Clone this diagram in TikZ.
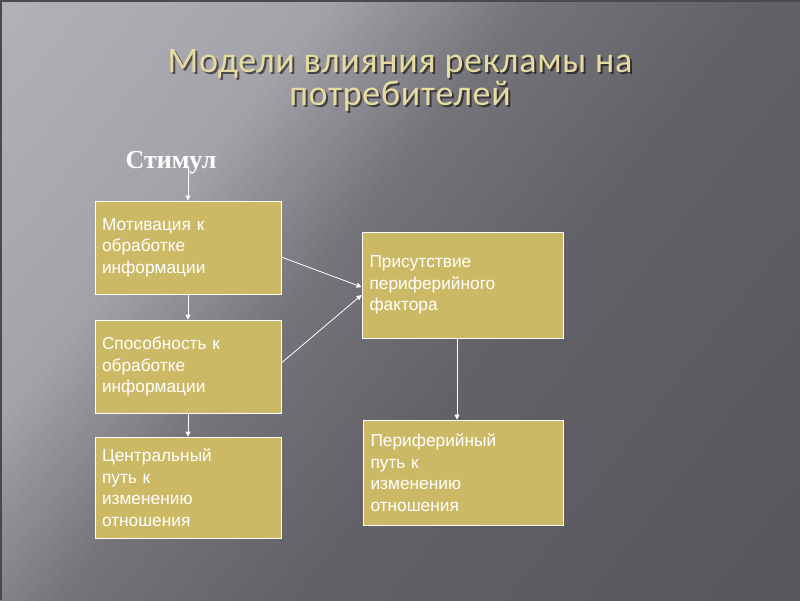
\documentclass[tikz,border=0pt]{standalone}
\usepackage{fontspec}
\setmainfont{Liberation Sans}
\newfontfamily\titlefont[LetterSpace=2]{Carlito}
\newfontfamily\stimfont{Liberation Serif}
\usetikzlibrary{arrows.meta,calc}
\definecolor{boxfill}{RGB}{204,185,102}
\definecolor{titlecol}{RGB}{230,219,160}
\definecolor{edgecol}{RGB}{74,73,79}
\tikzset{
  boxnode/.style={draw=white, line width=0.8pt, fill=boxfill, text=white,
    font=\fontsize{17.3}{21.5}\selectfont, align=left, inner xsep=7pt, inner ysep=2pt, anchor=center},
  conn/.style={draw=white, line width=0.8pt, -{Triangle[width=5pt,length=5pt]}},
  titletext/.style={font=\titlefont\fontsize{36}{33}\selectfont, align=center}
}
\begin{document}
\begin{tikzpicture}[x=1pt,y=-1pt]
\useasboundingbox (0,0) rectangle (800,600);
% background
\begin{scope}
\clip (0,0) rectangle (800,600);
\begin{scope}[rotate=-38]
\foreach \i in {0,...,99}{
  \pgfmathsetmacro{\p}{\i*10+5}
  \pgfmathsetmacro{\ga}{180-\p/260*15}
  \pgfmathsetmacro{\gb}{165-(\p-260)/160*47}
  \pgfmathsetmacro{\gc}{118-(\p-420)/180*18}
  \pgfmathsetmacro{\gd}{100-(\p-600)/400*12}
  \pgfmathtruncatemacro{\g}{\p<260 ? \ga : (\p<420 ? \gb : (\p<600 ? \gc : \gd))}
  \pgfmathtruncatemacro{\gr}{\g}
  \pgfmathtruncatemacro{\gg}{\g-2}
  \pgfmathtruncatemacro{\gbl}{\g+5}
  \definecolor{strip}{RGB}{\gr,\gg,\gbl}
  \fill[strip] (\i*10-0.5,-1200) rectangle (\i*10+10.5,1200);
}
\end{scope}
\fill[edgecol] (0,0) rectangle (800,2);
\fill[edgecol] (0,0) rectangle (2,600);
\end{scope}
% title
\node[titletext, text=black, opacity=0.55] at (402,82) {Модели влияния рекламы на\\потребителей};
\node[titletext, text=titlecol] (title) at (400,80) {Модели влияния рекламы на\\потребителей};
% stimulus
\node[font=\stimfont\bfseries\fontsize{26}{28}\selectfont, text=white, inner sep=0pt] (stim) at (171,163) {Стимул};
\coordinate (s) at (188,166);
% boxes
\node[boxnode, minimum width=186pt, minimum height=93pt, text width=172pt] (m1) at (188,247.5) {Мотивация к\\обработке\\информации};
\node[boxnode, minimum width=186pt, minimum height=93pt, text width=172pt] (m2) at (188,366.5) {Способность к\\обработке\\информации};
\node[boxnode, minimum width=186pt, minimum height=101pt, text width=172pt] (m3) at (188,487.5) {Центральный\\путь к\\изменению\\отношения};
\node[boxnode, minimum width=201pt, minimum height=106pt, text width=186pt] (p) at (462.5,285) {Присутствие\\периферийного\\фактора};
\node[boxnode, minimum width=200pt, minimum height=105pt, text width=185pt] (q) at (463,472.5) {Периферийный\\путь к\\изменению\\отношения};
% connectors
\draw[conn] (s) -- (m1.north);
\draw[conn] (m1.south) -- (m2.north);
\draw[conn] (m2.south) -- (m3.north);
\draw[conn] ($(m1.east)+(0,9.5)$) -- ($(p.west)+(0,2)$);
\draw[conn] ($(m2.east)+(0,-3.5)$) -- ($(p.west)+(0,10)$);
\draw[conn] ($(p.south)+(-5.5,0)$) -- ($(q.north)+(-6,0)$);
\end{tikzpicture}
\end{document}
